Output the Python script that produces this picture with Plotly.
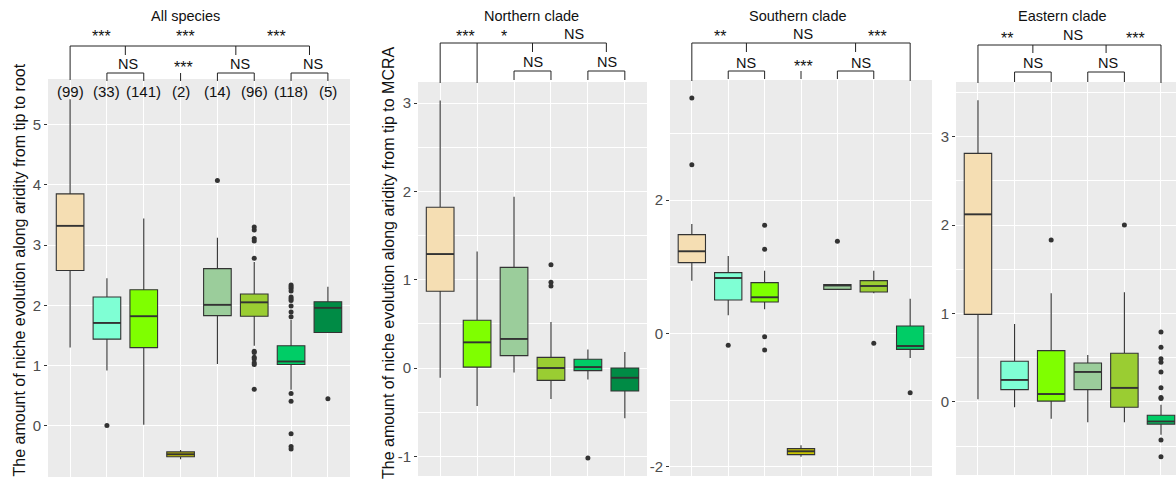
import plotly.graph_objects as go

W, H = 1176, 481

# ---------------- data ----------------
# Panel 1 : All species
all_colors = ["#F5DEB3", "#7FFFD4", "#7FFF00", "#C8C400", "#9BCD9B", "#9ACD32", "#00CD66", "#008B45"]
all_counts = ["(99)", "(33)", "(141)", "(2)", "(14)", "(96)", "(118)", "(5)"]
all_lo = [1.30, 0.92, 0.02, -0.55, 1.03, 1.33, 0.60, 1.55]
all_q1 = [2.58, 1.44, 1.30, -0.51, 1.83, 1.82, 1.02, 1.55]
all_med = [3.32, 1.71, 1.82, -0.47, 2.01, 2.05, 1.07, 1.96]
all_q3 = [3.85, 2.14, 2.26, -0.43, 2.61, 2.19, 1.33, 2.06]
all_hi = [5.42, 2.45, 3.44, -0.40, 3.12, 2.72, 1.76, 2.31]
all_out = [[], [0.01], [], [], [4.07],
           [3.30, 3.25, 3.11, 3.07, 2.78, 1.24, 1.22, 1.14, 1.11, 1.05, 1.02, 0.61],
           [2.34, 2.31, 2.28, 2.24, 2.14, 2.11, 2.08, 1.99, 1.89, 1.81, 0.54, 0.41, -0.13, -0.34, -0.38],
           [0.45]]

# Panel 2 : Northern clade
north_colors = ["#F5DEB3", "#7FFF00", "#9BCD9B", "#9ACD32", "#00CD66", "#008B45"]
north_lo = [-0.11, -0.43, -0.05, -0.35, -0.13, -0.57]
north_q1 = [0.87, 0.01, 0.14, -0.14, -0.03, -0.26]
north_med = [1.29, 0.29, 0.33, 0.00, 0.01, -0.11]
north_q3 = [1.82, 0.54, 1.14, 0.12, 0.10, 0.00]
north_hi = [3.03, 1.32, 1.94, 0.52, 0.21, 0.18]
north_out = [[], [], [], [1.17, 0.97, 0.93], [-1.02], []]

# Panel 3 : Southern clade
south_colors = ["#F5DEB3", "#7FFFD4", "#7FFF00", "#C8C400", "#9BCD9B", "#9ACD32", "#00CD66"]
south_lo = [0.79, 0.27, 0.36, -1.85, 0.66, 0.60, -0.37]
south_q1 = [1.06, 0.50, 0.47, -1.82, 0.66, 0.62, -0.24]
south_med = [1.23, 0.83, 0.54, -1.77, 0.72, 0.71, -0.19]
south_q3 = [1.48, 0.91, 0.76, -1.73, 0.73, 0.79, 0.11]
south_hi = [1.64, 1.16, 0.94, -1.68, 0.73, 0.94, 0.52]
south_out = [[3.53, 2.53], [-0.18], [1.62, 1.26, -0.05, -0.25], [], [1.38], [-0.15], [-0.89]]

# Panel 4 : Eastern clade
east_colors = ["#F5DEB3", "#7FFFD4", "#7FFF00", "#9BCD9B", "#9ACD32", "#00CD66"]
east_lo = [0.03, -0.06, -0.19, -0.23, -0.23, -0.37]
east_q1 = [0.99, 0.14, 0.01, 0.14, -0.06, -0.25]
east_med = [2.12, 0.25, 0.09, 0.34, 0.16, -0.22]
east_q3 = [2.81, 0.46, 0.58, 0.44, 0.55, -0.15]
east_hi = [3.41, 0.88, 1.23, 0.53, 1.24, -0.03]
east_out = [[], [], [1.83], [], [2.00], [0.79, 0.62, 0.49, 0.45, 0.34, 0.16, 0.05, 0.04, -0.43, -0.62]]

titles = ["All species", "Northern clade", "Southern clade", "Eastern clade"]
ytitle_root = "The amount of niche evolution along aridity from tip to root"
ytitle_mcra = "The amount of niche evolution along aridity from tip to MCRA"

# significance labels: (text, x position in category units, label row)
all_sig = [("***", 1.86, 0), ("***", 4.12, 0), ("***", 6.6, 0),
           ("NS", 2.57, 1), ("***", 4.07, 1), ("NS", 5.6, 1), ("NS", 7.6, 1)]
north_sig = [("***", 1.68, 0), ("*", 2.74, 0), ("NS", 4.61, 0), ("NS", 3.52, 1), ("NS", 5.53, 1)]
south_sig = [("**", 1.78, 0), ("NS", 4.05, 0), ("***", 6.1, 0),
             ("NS", 2.5, 1), ("***", 4.06, 1), ("NS", 5.64, 1)]
east_sig = [("**", 1.78, 0), ("NS", 3.59, 0), ("***", 5.3, 0), ("NS", 2.51, 1), ("NS", 4.54, 1)]

# bracket structure: top bar span, long drops, short drops, lower pairs, lower singles
all_br = dict(top=(1, 7.5), long=[1], short=[2.5, 5.5, 7.5], pairs=[(2, 3), (5, 6), (7, 8)], single=[4])
north_br = dict(top=(1, 5.5), long=[1, 2], short=[3.5, 5.5], pairs=[(3, 4), (5, 6)], single=[])
south_br = dict(top=(1, 7), long=[1, 7], short=[2.5, 5.5], pairs=[(2, 3), (5, 6)], single=[4])
east_br = dict(top=(1, 6), long=[1, 6], short=[2.5, 4.5], pairs=[(2, 3), (4, 5)], single=[])

# ---------------- layout geometry (pixels) ----------------
panels = [
    dict(c=all_colors, lo=all_lo, q1=all_q1, med=all_med, q3=all_q3, hi=all_hi, out=all_out,
         xpx=(48, 350), ypx=(79, 477), xr=(0.4, 8.6), yr=(-0.846, 5.755),
         yt=[0, 1, 2, 3, 4, 5], ym=[], sig=all_sig, br=all_br,
         title_x=185.5, bar_y=46, short_y=55, low_y=73, low_end=81, row_y=(33, 63)),
    dict(c=north_colors, lo=north_lo, q1=north_q1, med=north_med, q3=north_q3, hi=north_hi, out=north_out,
         xpx=(418, 647), ypx=(82, 476), xr=(0.4, 6.6), yr=(-1.223, 3.239),
         yt=[-1, 0, 1, 2, 3], ym=[-0.5, 0.5, 1.5, 2.5], sig=north_sig, br=north_br,
         title_x=531.7, bar_y=43, short_y=52, low_y=71, low_end=80, row_y=(33, 61)),
    dict(c=south_colors, lo=south_lo, q1=south_q1, med=south_med, q3=south_q3, hi=south_hi, out=south_out,
         xpx=(670, 932), ypx=(80, 476), xr=(0.4, 7.6), yr=(-2.14, 3.80),
         yt=[-2, 0, 2], ym=[-1, 1, 3], sig=south_sig, br=south_br,
         title_x=798, bar_y=43, short_y=52, low_y=71, low_end=79, row_y=(33, 62)),
    dict(c=east_colors, lo=east_lo, q1=east_q1, med=east_med, q3=east_q3, hi=east_hi, out=east_out,
         xpx=(956, 1176), ypx=(82, 475), xr=(0.4, 6.41), yr=(-0.825, 3.616),
         yt=[0, 1, 2, 3], ym=[-0.5, 0.5, 1.5, 2.5, 3.5], sig=east_sig, br=east_br,
         title_x=1062.7, bar_y=45, short_y=53, low_y=72, low_end=82, row_y=(34, 62)),
]

FONT = "Liberation Sans, Arial, sans-serif"
LINE = "#333333"


def py(v):
    return 1 - v / H


fig = go.Figure()
shapes, annos = [], []
layout_axes = {}

for k, p in enumerate(panels):
    sfx = "" if k == 0 else str(k + 1)
    xa, ya = "x" + sfx, "y" + sfx
    n = len(p["c"])
    for i in range(n):
        fig.add_trace(go.Box(
            x=[i + 1], q1=[p["q1"][i]], median=[p["med"][i]], q3=[p["q3"][i]],
            lowerfence=[p["lo"][i]], upperfence=[p["hi"][i]],
            width=0.75, whiskerwidth=0, fillcolor=p["c"][i],
            line=dict(color=LINE, width=1.1), xaxis=xa, yaxis=ya, hoverinfo="skip"))
    # thicker median lines (ggplot style)
    mx, my = [], []
    for i in range(n):
        mx += [i + 1 - 0.375, i + 1 + 0.375, None]
        my += [p["med"][i], p["med"][i], None]
    fig.add_trace(go.Scatter(x=mx, y=my, mode="lines", line=dict(color=LINE, width=1.8),
                             xaxis=xa, yaxis=ya, hoverinfo="skip"))
    # outliers
    ox, oy = [], []
    for i, vals in enumerate(p["out"]):
        ox += [i + 1] * len(vals)
        oy += vals
    fig.add_trace(go.Scatter(x=ox, y=oy, mode="markers", marker=dict(color=LINE, size=5),
                             xaxis=xa, yaxis=ya, hoverinfo="skip"))

    layout_axes["xaxis" + sfx] = dict(
        domain=[p["xpx"][0] / W, p["xpx"][1] / W], range=list(p["xr"]), anchor=ya,
        tickvals=list(range(1, n + 1)), showticklabels=False, ticks="",
        showgrid=True, gridcolor="white", gridwidth=1.1, zeroline=False, showline=False)
    layout_axes["yaxis" + sfx] = dict(
        domain=[py(p["ypx"][1]), py(p["ypx"][0])], range=list(p["yr"]), anchor=xa,
        tickvals=p["yt"], ticktext=[str(v) for v in p["yt"]],
        ticks="outside", ticklen=3, tickwidth=1, tickcolor=LINE,
        tickfont=dict(family=FONT, size=15, color="#4D4D4D"),
        showgrid=True, gridcolor="white", gridwidth=1.1, zeroline=False, showline=False,
        minor=dict(tickvals=p["ym"], showgrid=True, gridcolor="white", gridwidth=0.55, ticks=""))

    # brackets
    def seg(x0, x1, y0, y1):
        shapes.append(dict(type="line", xref=xa, yref="paper", x0=x0, x1=x1,
                           y0=py(y0), y1=py(y1), line=dict(color="#222222", width=1)))
    br = p["br"]
    seg(br["top"][0], br["top"][1], p["bar_y"], p["bar_y"])
    for xv in br["long"]:
        seg(xv, xv, p["bar_y"], p["ypx"][0] + 1)
    for xv in br["short"]:
        seg(xv, xv, p["bar_y"], p["short_y"])
    for a, b in br["pairs"]:
        seg(a, b, p["low_y"], p["low_y"])
        seg(a, a, p["low_y"], p["low_end"])
        seg(b, b, p["low_y"], p["low_end"])
    for xv in br["single"]:
        seg(xv, xv, p["low_y"], p["low_end"])

    # significance texts
    for txt, xv, row in p["sig"]:
        star = "*" in txt
        yc = p["row_y"][row] + (4 if star else 1)
        annos.append(dict(text=txt, xref=xa, yref="paper", x=xv, y=py(yc), showarrow=False,
                          xanchor="center", yanchor="middle",
                          font=dict(family=FONT, size=16 if star else 14.5, color="#111111")))
    # panel titles
    annos.append(dict(text=titles[k], xref="paper", yref="paper", x=p["title_x"] / W, y=py(16.5),
                      showarrow=False, xanchor="center", yanchor="middle",
                      font=dict(family=FONT, size=14.5, color="#111111")))

# sample sizes in the "All species" panel
for i, t in enumerate(all_counts):
    annos.append(dict(text=t, xref="x", yref="paper", x=i + 1, y=py(91), showarrow=False,
                      xanchor="center", yanchor="middle",
                      font=dict(family=FONT, size=15, color="#111111")))

# y-axis titles
annos.append(dict(text=ytitle_root, xref="paper", yref="paper", x=18.5 / W, y=py(270),
                  textangle=-90, showarrow=False, xanchor="center", yanchor="middle",
                  font=dict(family=FONT, size=16, color="#111111")))
annos.append(dict(text=ytitle_mcra, xref="paper", yref="paper", x=388 / W, y=py(263),
                  textangle=-90, showarrow=False, xanchor="center", yanchor="middle",
                  font=dict(family=FONT, size=16, color="#111111")))

fig.update_layout(
    width=W, height=H, margin=dict(l=0, r=0, t=0, b=0),
    paper_bgcolor="white", plot_bgcolor="#EBEBEB",
    showlegend=False, boxmode="overlay",
    shapes=shapes, annotations=annos, **layout_axes)

fig.write_html("out.html", config={"displayModeBar": False},
               post_script="document.body.style.margin='0';document.body.style.overflow='hidden';")
